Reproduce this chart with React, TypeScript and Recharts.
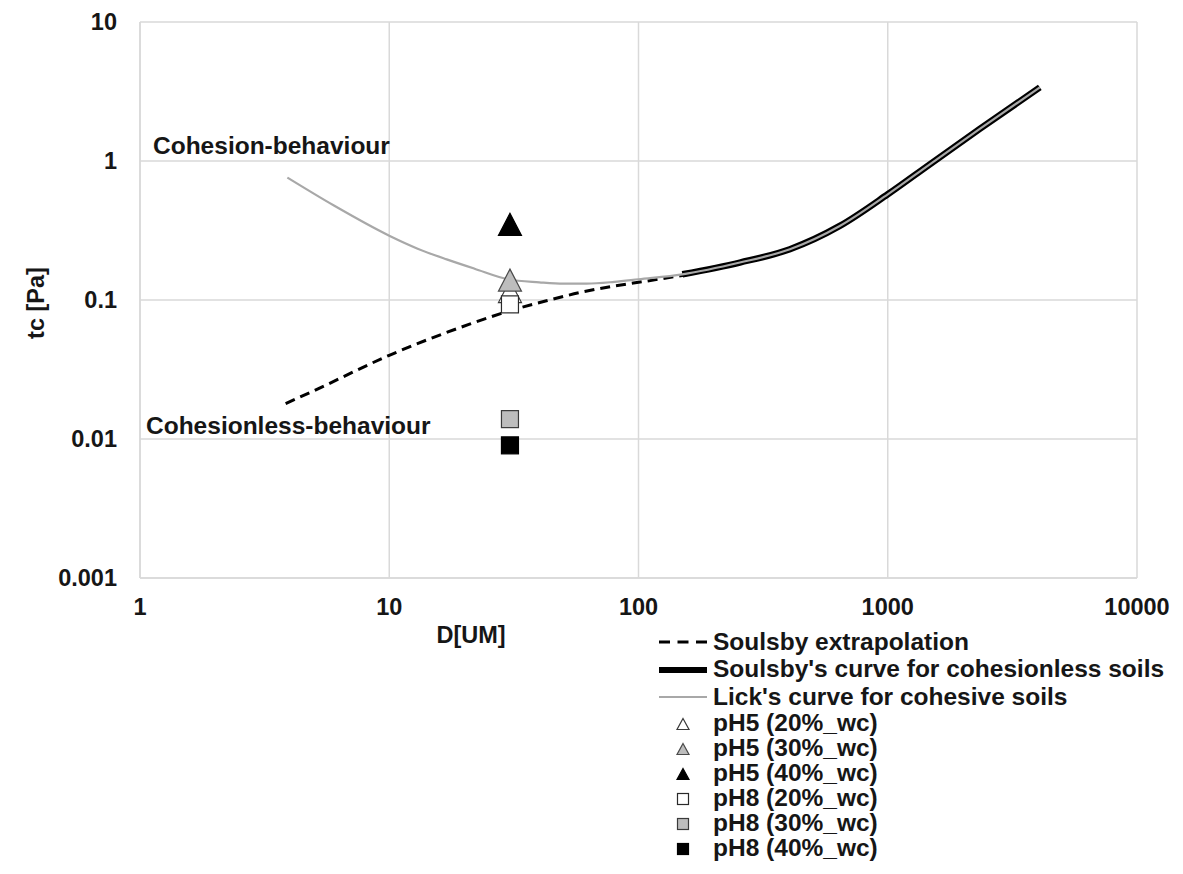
import React from 'react';
import {
  ComposedChart,
  Line,
  Scatter,
  XAxis,
  YAxis,
  CartesianGrid,
  Legend,
  Customized,
} from 'recharts';

// ---------- data ----------
const xTicks = [1, 10, 100, 1000, 10000];
const yTicks = [0.001, 0.01, 0.1, 1, 10];

// Soulsby extrapolation (dashed)
const extrapD = [3.84, 5, 10, 21, 30, 44, 58, 80, 100, 160];
const extrapTc = [0.018, 0.0223, 0.04, 0.067, 0.083, 0.1, 0.113, 0.126, 0.134, 0.153];

// Soulsby's curve for cohesionless soils (thick black)
const soulsbyD = [150, 255, 405, 642, 1000, 1475, 2340, 4075];
const soulsbyTc = [0.153, 0.186, 0.232, 0.341, 0.576, 0.947, 1.7, 3.39];

// Lick's curve for cohesive soils (grey)
const lickD = [3.9, 6, 10, 13, 17, 22, 30, 40, 50, 62, 80, 100, 150, 255, 405, 642, 1000, 1475, 2340, 4075];
const lickTc = [0.76, 0.478, 0.29, 0.234, 0.196, 0.168, 0.141, 0.134, 0.131, 0.131, 0.135, 0.141, 0.153, 0.186, 0.232, 0.341, 0.576, 0.947, 1.7, 3.39];

// measured samples
const sampleNames = ['pH5 (20%_wc)', 'pH5 (30%_wc)', 'pH5 (40%_wc)', 'pH8 (20%_wc)', 'pH8 (30%_wc)', 'pH8 (40%_wc)'];
const sampleD = [30.5, 30.5, 30.5, 30.5, 30.5, 30.5];
const sampleTc = [0.115, 0.139, 0.35, 0.093, 0.0139, 0.009];

const lineNames = ['Soulsby extrapolation', "Soulsby's curve for cohesionless soils", "Lick's curve for cohesive soils"];

// ---------- styling ----------
const FONT = '"Liberation Sans", Arial, Helvetica, sans-serif';
const TEXT = '#161616';
const GRID = '#d9d9d9';
const LICK_GREY = '#a8a8a8';
const sampleShapes = ['triangle', 'triangle', 'triangle', 'square', 'square', 'square'];
const sampleFills = ['#ffffff', '#bdbdbd', '#000000', '#ffffff', '#bdbdbd', '#000000'];
const sampleStrokes = ['#3a3a3a', '#4a4a4a', '#000000', '#2a2a2a', '#3a3a3a', '#000000'];

const toPts = (ds: number[], ts: number[]) => ds.map((d, i) => ({ d, tc: ts[i] }));
const extrapData = toPts(extrapD, extrapTc);
const soulsbyData = toPts(soulsbyD, soulsbyTc);
const lickData = toPts(lickD, lickTc);

const Marker = ({ cx, cy, kind, fill, stroke, w, h }: any) => {
  if (cx == null || cy == null) return null;
  if (kind === 'triangle') {
    const pts = `${cx},${cy - h / 2} ${cx + w / 2},${cy + h / 2} ${cx - w / 2},${cy + h / 2}`;
    return <polygon points={pts} fill={fill} stroke={stroke} strokeWidth={1.2} />;
  }
  return <rect x={cx - w / 2} y={cy - h / 2} width={w} height={h} fill={fill} stroke={stroke} strokeWidth={1.2} />;
};

const Annotations = () => (
  <g fontFamily={FONT} fontWeight="bold" fill={TEXT}>
    <text x={153} y={154} fontSize={24.5}>Cohesion-behaviour</text>
    <text x={146} y={434} fontSize={24.5}>Cohesionless-behaviour</text>
    <text x={471} y={643} fontSize={23.5} textAnchor="middle">D[UM]</text>
    <text
      x={0}
      y={0}
      fontSize={23.5}
      textAnchor="middle"
      transform="translate(44,303) rotate(-90)"
    >
      tc [Pa]
    </text>
  </g>
);

const LegendIcon = ({ i }: { i: number }) => {
  if (i === 0) return <line x1={0} x2={48} y1={10} y2={10} stroke="#000" strokeWidth={3} strokeDasharray="11 7.5" />;
  if (i === 1) return <line x1={0} x2={48} y1={10} y2={10} stroke="#000" strokeWidth={6} />;
  if (i === 2) return <line x1={0} x2={48} y1={10} y2={10} stroke={LICK_GREY} strokeWidth={2} />;
  const k = i - 3;
  return (
    <Marker
      cx={24}
      cy={10}
      kind={sampleShapes[k]}
      fill={sampleFills[k]}
      stroke={sampleStrokes[k]}
      w={sampleShapes[k] === 'triangle' ? 12 : 11}
      h={11}
    />
  );
};

const LegendContent = () => {
  const rows = [...lineNames, ...sampleNames];
  return (
    <div style={{ fontFamily: FONT, fontWeight: 'bold', fontSize: 24.5, color: TEXT }}>
      {rows.map((name, i) => (
        <div key={name} style={{ display: 'flex', alignItems: 'center', height: i < 3 ? 27.7 : 25 }}>
          <svg width={48} height={20} style={{ flex: 'none', overflow: 'visible' }}>
            <LegendIcon i={i} />
          </svg>
          <span style={{ marginLeft: 6, whiteSpace: 'nowrap', lineHeight: 1 }}>{name}</span>
        </div>
      ))}
    </div>
  );
};

const tickStyle = { fontFamily: FONT, fontWeight: 'bold' as const, fontSize: 23.5, fill: TEXT };

export default function App() {
  return (
    <div style={{ position: 'absolute', left: 0, top: 0, width: 1183, height: 874, background: '#fff' }}>
      <ComposedChart width={1183} height={874} margin={{ top: 22, right: 46, bottom: 0, left: 0 }}>
        <CartesianGrid stroke={GRID} strokeWidth={1.5} />
        <XAxis
          dataKey="d"
          type="number"
          scale="log"
          domain={[1, 10000]}
          ticks={xTicks}
          allowDataOverflow
          height={296}
          tickLine={false}
          tickSize={0}
          tickMargin={20}
          axisLine={{ stroke: GRID, strokeWidth: 1.5 }}
          tick={tickStyle}
          tickFormatter={(v: number) => String(v)}
        />
        <YAxis
          dataKey="tc"
          type="number"
          scale="log"
          domain={[0.001, 10]}
          ticks={yTicks}
          allowDataOverflow
          width={140}
          tickLine={false}
          tickSize={0}
          tickMargin={23}
          axisLine={{ stroke: GRID, strokeWidth: 1.5 }}
          tick={tickStyle}
          tickFormatter={(v: number) => String(v)}
        />
        <Line
          data={soulsbyData}
          dataKey="tc"
          name={lineNames[1]}
          type="monotone"
          stroke="#000"
          strokeWidth={6.5}
          dot={false}
          isAnimationActive={false}
        />
        <Line
          data={extrapData}
          dataKey="tc"
          name={lineNames[0]}
          type="monotone"
          stroke="#000"
          strokeWidth={3}
          strokeDasharray="10 6"
          dot={false}
          isAnimationActive={false}
        />
        <Line
          data={lickData}
          dataKey="tc"
          name={lineNames[2]}
          type="monotone"
          stroke={LICK_GREY}
          strokeWidth={2.2}
          dot={false}
          isAnimationActive={false}
        />
        {sampleNames.map((name, k) => (
          <Scatter
            key={name}
            name={name}
            data={[{ d: sampleD[k], tc: sampleTc[k] }]}
            dataKey="tc"
            isAnimationActive={false}
            shape={(p: any) => (
              <Marker
                cx={p.cx}
                cy={p.cy}
                kind={sampleShapes[k]}
                fill={sampleFills[k]}
                stroke={sampleStrokes[k]}
                w={sampleShapes[k] === 'triangle' ? 23 : 17}
                h={sampleShapes[k] === 'triangle' ? 22 : 17}
              />
            )}
          />
        ))}
        <Customized component={Annotations} />
        <Legend
          layout="vertical"
          align="center"
          verticalAlign="middle"
          content={<LegendContent />}
          wrapperStyle={{ left: 659, top: 628, width: 520 }}
        />
      </ComposedChart>
    </div>
  );
}
